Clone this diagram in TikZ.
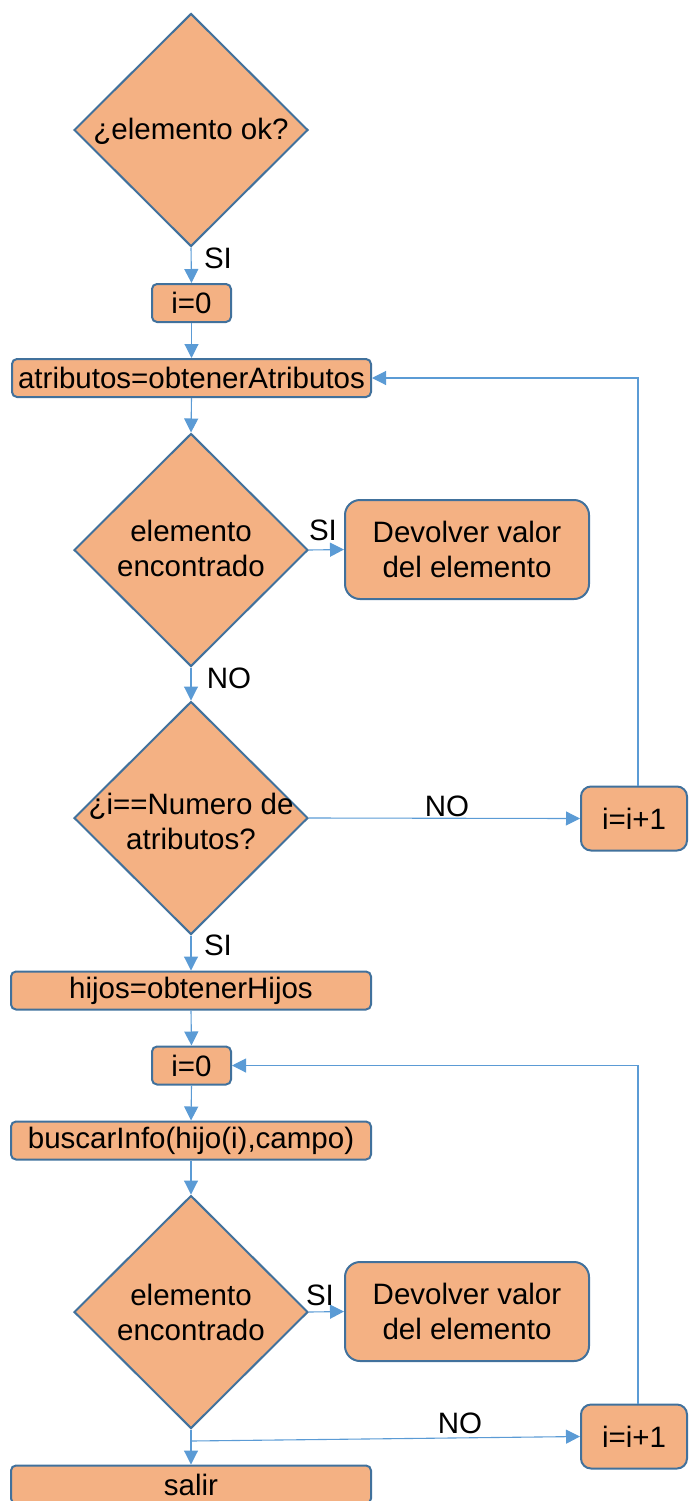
\documentclass[tikz,border=0pt]{standalone}
\usepackage{fontspec}
\setmainfont{Liberation Sans}
\usetikzlibrary{arrows.meta,shapes.geometric}
\definecolor{boxfill}{HTML}{F4B183}
\definecolor{boxline}{HTML}{41719C}
\definecolor{flowblue}{HTML}{5B9BD5}
\begin{document}
\begin{tikzpicture}[x=1pt,y=-1pt,
  every node/.style={font=\fontsize{29.5}{35}\selectfont, inner sep=0pt, align=center},
  proc/.style={draw=boxline, fill=boxfill, line width=2pt, rounded corners=5pt, minimum height=38pt},
  retbox/.style={draw=boxline, fill=boxfill, line width=2pt, rounded corners=15pt, minimum width=244pt, minimum height=99pt},
  incbox/.style={draw=boxline, fill=boxfill, line width=2pt, rounded corners=10pt, minimum width=106pt, minimum height=64pt},
  decide/.style={diamond, draw=boxline, fill=boxfill, line width=2pt, minimum width=234pt, minimum height=233pt},
  conn/.style={draw=flowblue, line width=1.1pt, -{Triangle[length=14pt,width=14pt]}},
  lbl/.style={text=black}]
\useasboundingbox (0,0) rectangle (689,1501);

% first decision and attribute loop
\node[decide] (ok) at (191,130) {};
\node (okt) at (191,131) {¿elemento ok?};
\node[proc, minimum width=79pt] (z1) at (191.5,303) {i=0};
\node[proc, minimum width=359pt] (atr) at (191.5,378) {atributos=obtenerAtributos};
\node[decide] (f1) at (191,550) {};
\node (f1t) at (191,548) {elemento\\encontrado};
\node[retbox] (r1) at (467,549.5) {Devolver valor\\del elemento};
\node[decide] (cnt) at (191,818) {};
\node (cntt) at (191,821) {¿i==Numero de\\atributos?};
\node[incbox] (inc1) at (634,818.5) {i=i+1};

% children loop
\node[proc, minimum width=360pt] (hij) at (191,990.5) {hijos=obtenerHijos};
\node[proc, minimum width=79pt] (z2) at (191.5,1065.5) {i=0};
\node[proc, minimum width=360pt] (bus) at (191,1140.5) {buscarInfo(hijo(i),campo)};
\node[decide] (f2) at (191,1312) {};
\node (f2t) at (191,1312) {elemento\\encontrado};
\node[retbox] (r2) at (467,1311.5) {Devolver valor\\del elemento};
\node[incbox] (inc2) at (634,1436.5) {i=i+1};
\node[proc, minimum width=360pt] (sal) at (191,1484.5) {salir};

% connectors
\draw[conn] (ok.south) -- (z1.north);
\draw[conn] (z1.south) -- (atr.north);
\draw[conn] (atr.south) -- (f1.north);
\draw[conn] (f1.east) -- (r1.west);
\draw[conn] (f1.south) -- (cnt.north);
\draw[conn] (cnt.east) -- (inc1.west);
\draw[conn] ([xshift=4pt]inc1.north) |- (atr.east);
\draw[conn] (cnt.south) -- (hij.north);
\draw[conn] (hij.south) -- (z2.north);
\draw[conn] (z2.south) -- (bus.north);
\draw[conn] (bus.south) -- (f2.north);
\draw[conn] (f2.east) -- (r2.west);
\draw[conn] (f2.south) -- (sal.north);
\coordinate (br) at (191,1441);
\draw[conn] (br) -- (inc2.west);
\draw[conn] ([xshift=4pt]inc2.north) |- (z2.east);

% branch labels
\node[lbl] (l1) at (218,258) {SI};
\node[lbl] (l2) at (323,530) {SI};
\node[lbl] (l3) at (229,678) {NO};
\node[lbl] (l4) at (447,806) {NO};
\node[lbl] (l5) at (218,945) {SI};
\node[lbl] (l6) at (320,1295) {SI};
\node[lbl] (l7) at (460,1423) {NO};
\end{tikzpicture}
\end{document}
